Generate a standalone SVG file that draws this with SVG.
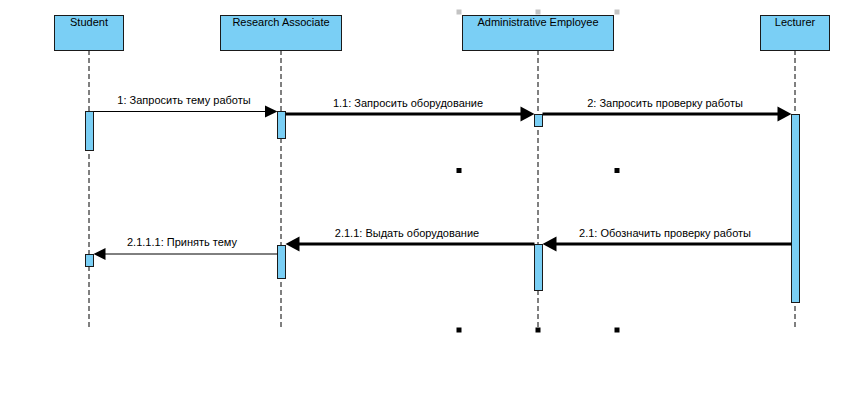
<svg xmlns="http://www.w3.org/2000/svg" width="861" height="411" viewBox="0 0 861 411">
<style>
.box{fill:#7acff5;stroke:#1a1a1a;stroke-width:1}
.act{fill:#7acff5;stroke:#1a1a1a;stroke-width:1}
.life{stroke:#000;stroke-width:1;stroke-dasharray:5,3;fill:none}
.t{font-family:"Liberation Sans",Arial,sans-serif;font-size:11px;fill:#000;text-anchor:middle}
.thin{stroke:#000;stroke-width:1;fill:none}
.thick{stroke:#000;stroke-width:3;fill:none}
.h{fill:#000}
.g{fill:#c3c3c3}
</style>
<rect width="861" height="411" fill="#fff"/>
<g id="lifelines">
<line class="life" x1="89" y1="50" x2="89" y2="328"/>
<line class="life" x1="281" y1="50" x2="281" y2="328"/>
<line class="life" x1="538" y1="50" x2="538" y2="328"/>
<line class="life" x1="795" y1="50" x2="795" y2="328"/>
</g>
<g id="student">
<rect class="box" x="54.5" y="15.5" width="69" height="35"/>
<text class="t" x="89" y="26">Student</text>
<rect class="act" x="85.5" y="111.5" width="8" height="39"/>
<rect class="act" x="85.5" y="254.5" width="8" height="12"/>
</g>
<g id="research-associate">
<rect class="box" x="220.5" y="15.5" width="121" height="35"/>
<text class="t" x="281" y="26">Research Associate</text>
<rect class="act" x="277.5" y="111.5" width="8" height="27"/>
<rect class="act" x="277.5" y="245.5" width="8" height="33"/>
</g>
<g id="administrative-employee">
<rect class="box" x="462.5" y="15.5" width="151" height="35"/>
<text class="t" x="538" y="26">Administrative Employee</text>
<rect class="act" x="534.5" y="114.5" width="8" height="12"/>
<rect class="act" x="534.5" y="244.5" width="8" height="46"/>
</g>
<g id="lecturer">
<rect class="box" x="760.5" y="15.5" width="69" height="35"/>
<text class="t" x="795" y="26">Lecturer</text>
<rect class="act" x="791.5" y="114.5" width="8" height="188"/>
</g>
<g id="connectors">
<line class="thin" x1="93.5" y1="111.5" x2="266" y2="111.5"/>
<polygon class="h" points="277.5,111.5 265,105.5 265,117.5"/>
<text class="t" x="184" y="104">1: Запросить тему работы</text>
<line class="thick" x1="285.5" y1="114" x2="522" y2="114"/>
<polygon class="h" points="534.5,114 520.5,106.5 520.5,121.5"/>
<text class="t" x="408" y="106.5">1.1: Запросить оборудование</text>
<line class="thick" x1="542.5" y1="114" x2="779" y2="114"/>
<polygon class="h" points="791.5,114 777.5,106.5 777.5,121.5"/>
<text class="t" x="665" y="106.5">2: Запросить проверку работы</text>
<line class="thick" x1="791.5" y1="244" x2="555" y2="244"/>
<polygon class="h" points="542.5,244 556.5,236.5 556.5,251.5"/>
<text class="t" x="665" y="236.5">2.1: Обозначить проверку работы</text>
<line class="thick" x1="534.5" y1="244" x2="298" y2="244"/>
<polygon class="h" points="285.5,244 299.5,236.5 299.5,251.5"/>
<text class="t" x="407" y="236.5">2.1.1: Выдать оборудование</text>
<line class="thin" x1="277.5" y1="254" x2="105" y2="254"/>
<polygon class="h" points="93.5,254 105.5,248 105.5,260"/>
<text class="t" x="182" y="246">2.1.1.1: Принять тему</text>
</g>
<g id="handles">
<rect class="g" x="456.5" y="9.5" width="5" height="5"/>
<rect class="g" x="535.5" y="9.5" width="5" height="5"/>
<rect class="g" x="614.5" y="9.5" width="5" height="5"/>
<rect class="h" x="456.5" y="168" width="5" height="5"/>
<rect class="h" x="614.5" y="168" width="5" height="5"/>
<rect class="h" x="456.5" y="327.5" width="5" height="5"/>
<rect class="h" x="535.5" y="327.5" width="5" height="5"/>
<rect class="h" x="614.5" y="327.5" width="5" height="5"/>
</g>
</svg>
